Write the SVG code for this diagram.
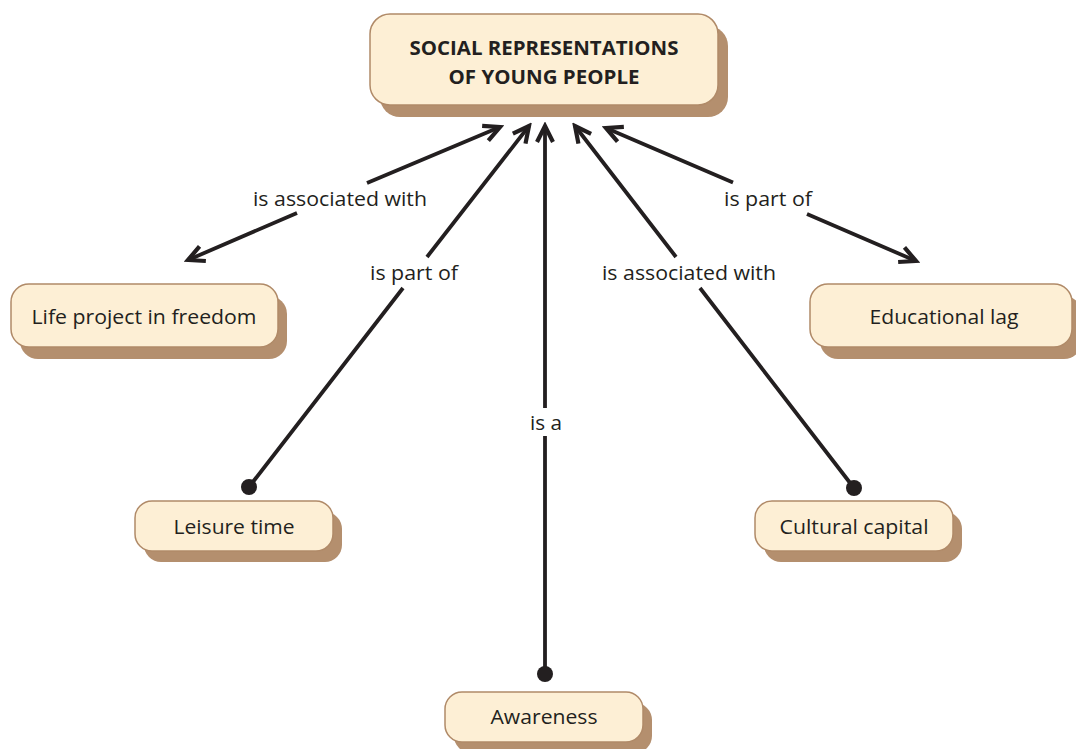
<svg xmlns="http://www.w3.org/2000/svg" width="1076" height="749" viewBox="0 0 1076 749">
<defs>
<style>
.sh{fill:#b48f6e}
.bx{fill:#fdefd5;stroke:#b08a68;stroke-width:1.5}
.t{font-family:"Open Sans",Lato,sans-serif;font-size:20px;fill:#231f20;text-anchor:middle;dominant-baseline:central}
.tb{font-weight:bold}
.c{fill:none;stroke:#231f20;stroke-width:3.8}
.dot{fill:#231f20}
</style>
<marker id="ah" viewBox="-22 -12 26 24" markerWidth="26" markerHeight="24" refX="0" refY="0" orient="auto-start-reverse" markerUnits="userSpaceOnUse">
<path d="M-16,-8 L0,0 L-16,8" fill="none" stroke="#231f20" stroke-width="4.2" stroke-linejoin="miter"/>
</marker>
</defs>
<rect width="1076" height="749" fill="#ffffff"/>
<g id="connectors">
<path class="c" d="M188,260 L297,213 M367,183 L500,127" marker-start="url(#ah)" marker-end="url(#ah)"/>
<path class="c" d="M606,128 L733,182.5 M807,214 L916,261" marker-start="url(#ah)" marker-end="url(#ah)"/>
<path class="c" d="M249,487 L403,288 M427,257 L529,126" marker-end="url(#ah)"/>
<path class="c" d="M854,488 L700,288 M676,257 L575,126" marker-end="url(#ah)"/>
<path class="c" d="M545,674 L545,436 M545,408 L545,126" marker-end="url(#ah)"/>
<circle class="dot" cx="249" cy="487" r="8"/>
<circle class="dot" cx="854" cy="488" r="8"/>
<circle class="dot" cx="545" cy="674" r="8"/>
<text class="t" x="340" y="198" textLength="174" lengthAdjust="spacingAndGlyphs">is associated with</text>
<text class="t" x="768" y="198" textLength="88" lengthAdjust="spacingAndGlyphs">is part of</text>
<text class="t" x="414" y="272" textLength="88" lengthAdjust="spacingAndGlyphs">is part of</text>
<text class="t" x="689" y="272" textLength="174" lengthAdjust="spacingAndGlyphs">is associated with</text>
<text class="t" x="546" y="422" textLength="32" lengthAdjust="spacingAndGlyphs">is a</text>
</g>
<g id="node-main">
<rect class="sh" x="380" y="26" width="348" height="91" rx="20"/>
<rect class="bx" x="370" y="14" width="348" height="91" rx="20"/>
<text class="t tb" x="544" y="47" textLength="269" lengthAdjust="spacingAndGlyphs">SOCIAL REPRESENTATIONS</text>
<text class="t tb" x="544" y="76" textLength="191" lengthAdjust="spacingAndGlyphs">OF YOUNG PEOPLE</text>
</g>
<g id="node-life">
<rect class="sh" x="20" y="296" width="267" height="63" rx="18"/>
<rect class="bx" x="11" y="284" width="267" height="63" rx="18"/>
<text class="t" x="144" y="316" textLength="225" lengthAdjust="spacingAndGlyphs">Life project in freedom</text>
</g>
<g id="node-edu">
<rect class="sh" x="820" y="296" width="262" height="63" rx="18"/>
<rect class="bx" x="810" y="284" width="262" height="63" rx="18"/>
<text class="t" x="944" y="316" textLength="149" lengthAdjust="spacingAndGlyphs">Educational lag</text>
</g>
<g id="node-leisure">
<rect class="sh" x="144" y="512" width="198" height="50" rx="17"/>
<rect class="bx" x="135" y="501" width="198" height="50" rx="17"/>
<text class="t" x="234" y="526" textLength="121" lengthAdjust="spacingAndGlyphs">Leisure time</text>
</g>
<g id="node-cultural">
<rect class="sh" x="764" y="512" width="198" height="50" rx="17"/>
<rect class="bx" x="755" y="501" width="198" height="50" rx="17"/>
<text class="t" x="854" y="526" textLength="149" lengthAdjust="spacingAndGlyphs">Cultural capital</text>
</g>
<g id="node-awareness">
<rect class="sh" x="454" y="703" width="198" height="50" rx="17"/>
<rect class="bx" x="445" y="692" width="198" height="50" rx="17"/>
<text class="t" x="544" y="716" textLength="107" lengthAdjust="spacingAndGlyphs">Awareness</text>
</g>
</svg>
